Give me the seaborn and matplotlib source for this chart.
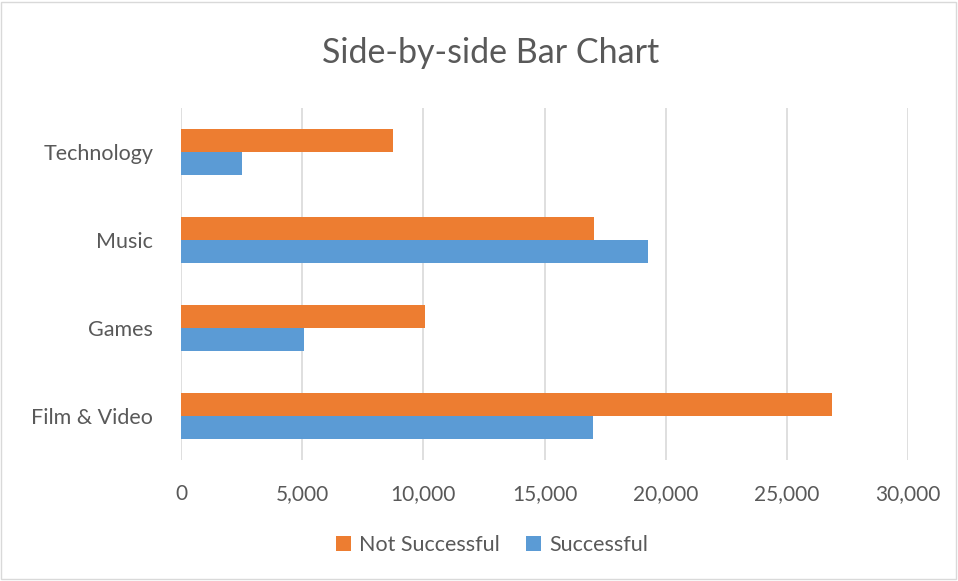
import pandas as pd
import matplotlib.pyplot as plt
import seaborn as sns
from matplotlib.patches import Rectangle
from matplotlib.ticker import FuncFormatter

categories = ['Technology', 'Music', 'Games', 'Film & Video']
not_successful = [8730, 17035, 10055, 26870]
successful = [2525, 19260, 5085, 17020]
series = ['Not Successful', 'Successful']

df = pd.DataFrame({
    'category': categories * 2,
    'series': [series[0]] * 4 + [series[1]] * 4,
    'count': not_successful + successful,
})

sns.set_style('white')
plt.rcParams['font.family'] = ['Lato', 'DejaVu Sans']
text_col = '#595959'

fig = plt.figure(figsize=(9.58, 5.81), dpi=100)
ax = fig.add_axes([181 / 958, 1 - 460 / 581, 727 / 958, 352 / 581])

sns.barplot(data=df, y='category', x='count', hue='series', order=categories,
            hue_order=series, palette=['#ED7D31', '#5B9BD5'], width=0.52,
            gap=0, orient='h', ax=ax, legend=True, saturation=1, linewidth=0)

ax.set_xlim(0, 30000)
ax.set_xticks(range(0, 30001, 5000))
ax.xaxis.set_major_formatter(FuncFormatter(lambda v, p: f'{int(v):,}'))
ax.grid(axis='x', color='#D9D9D9', linewidth=1.2)
ax.set_axisbelow(True)
for s in ax.spines.values():
    s.set_visible(False)
ax.tick_params(axis='both', length=0, labelcolor=text_col)
ax.tick_params(axis='x', pad=17, labelsize=15)
ax.tick_params(axis='y', pad=20, labelsize=15.5)
ax.set_xlabel('')
ax.set_ylabel('')

ax.legend_.remove()
handles, labels = ax.get_legend_handles_labels()
fig.legend(handles, labels, loc='center', bbox_to_anchor=(492 / 958, 1 - 545 / 581),
           ncol=2, frameon=False, fontsize=15.5, labelcolor=text_col,
           handlelength=0.7, handleheight=0.7, handletextpad=0.4,
           columnspacing=1.2)

fig.suptitle('Side-by-side Bar Chart', x=491 / 958, y=1 - 53 / 581, va='center',
             fontsize=24.5, color=text_col)

fig.patches.append(Rectangle((1 / 958, 2 / 581), 955 / 958, 577 / 581,
                             transform=fig.transFigure, fill=False,
                             edgecolor='#D9D9D9', linewidth=1))

fig.savefig('out.png', dpi=100)
